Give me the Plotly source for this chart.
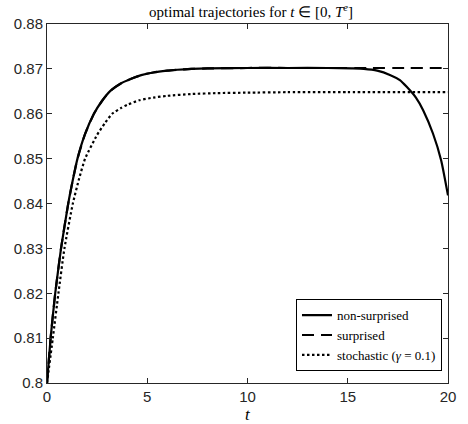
import plotly.graph_objects as go

# non-surprised trajectory
t_ns = [0, 0.18, 0.41, 0.70, 1.06, 1.3, 1.52, 1.9, 2.34, 2.75, 3.16, 3.7, 4.2, 4.7, 5.3, 6.0, 6.5,
        7.2, 8, 10, 12, 14, 15.2, 15.8, 16.47, 17.13, 17.6, 17.94, 18.4, 18.76, 19.25, 19.66, 20]
v_ns = [0.800, 0.810, 0.820, 0.830, 0.840, 0.8455, 0.850, 0.8555, 0.860, 0.8629, 0.8651, 0.8668,
        0.8678, 0.8686, 0.8692, 0.8696, 0.8698, 0.8700, 0.8701, 0.8702, 0.8702, 0.8702, 0.8701,
        0.8700, 0.8696, 0.8686, 0.8675, 0.8660, 0.8636, 0.8608, 0.8556, 0.8496, 0.8418]

# surprised trajectory
t_s = [0, 0.18, 0.41, 0.70, 1.06, 1.3, 1.52, 1.9, 2.34, 2.75, 3.16, 3.7, 4.2, 4.7, 5.3, 6.0, 6.5,
       7.2, 8, 10, 12, 14, 16, 18, 20]
v_s = [0.800, 0.810, 0.820, 0.830, 0.840, 0.8455, 0.850, 0.8555, 0.860, 0.8629, 0.8651, 0.8668,
       0.8678, 0.8686, 0.8692, 0.8696, 0.8698, 0.8700, 0.8701, 0.8702, 0.8702, 0.8702, 0.8702,
       0.8702, 0.8702]

# stochastic trajectory (gamma = 0.1)
t_st = [0, 0.29, 0.57, 0.87, 1.29, 1.6, 1.9, 2.5, 2.9, 3.25, 3.7, 4.0, 4.6, 5.3, 6.0, 7.2, 8.5,
        10, 12, 15, 20]
v_st = [0.800, 0.810, 0.820, 0.830, 0.840, 0.8455, 0.850, 0.8553, 0.8580, 0.8600, 0.8613, 0.8620,
        0.8630, 0.8636, 0.8640, 0.8644, 0.8646, 0.8647, 0.8648, 0.8648, 0.8648]

x_ticks = [0, 5, 10, 15, 20]
y_ticks = [0.80, 0.81, 0.82, 0.83, 0.84, 0.85, 0.86, 0.87, 0.88]
y_ticklabels = ["0.8", "0.81", "0.82", "0.83", "0.84", "0.85", "0.86", "0.87", "0.88"]

serif = "Liberation Serif, Times New Roman, serif"
sans = "Liberation Sans, Arial, sans-serif"

fig = go.Figure()
fig.add_trace(go.Scatter(x=t_s, y=v_s, mode="lines", name="surprised",
                         line=dict(color="black", width=2.2, dash="12px,7px", shape="spline", smoothing=0.5),
                         legendrank=2))
fig.add_trace(go.Scatter(x=t_ns, y=v_ns, mode="lines", name="non-surprised",
                         line=dict(color="black", width=2.2, shape="spline", smoothing=0.5),
                         legendrank=1))
fig.add_trace(go.Scatter(x=t_st, y=v_st, mode="lines", name="stochastic (<i>γ</i> = 0.1)",
                         line=dict(color="black", width=2.2, dash="2.5px,2.5px", shape="spline", smoothing=0.5),
                         legendrank=3))

axis_common = dict(
    showline=True, linecolor="#262626", linewidth=1, mirror="ticks",
    ticks="inside", ticklen=5, tickcolor="#262626", tickwidth=1,
    showgrid=False, zeroline=False, ticklabeloverflow="allow",
    tickfont=dict(family=sans, size=15, color="#262626"),
)

fig.update_layout(
    width=468, height=424,
    margin=dict(l=47, r=13, t=24, b=41),
    paper_bgcolor="white", plot_bgcolor="white",
    title=dict(text="optimal trajectories for <i>t</i> ∈ [0, <i>T</i><sup><i>e</i></sup>]",
               font=dict(family=serif, size=15, color="black"),
               x=251 / 468, xanchor="center", xref="container",
               y=1 - 12 / 424, yanchor="middle", yref="container"),
    xaxis=dict(range=[0, 20], tickvals=x_ticks, **axis_common),
    yaxis=dict(range=[0.80, 0.88], tickvals=y_ticks, ticktext=y_ticklabels, **axis_common),
    legend=dict(x=0.985, y=0.033, xanchor="right", yanchor="bottom",
                bgcolor="white", bordercolor="black", borderwidth=1,
                font=dict(family=serif, size=13, color="black"),
                itemwidth=30, tracegroupgap=0),
    showlegend=True,
    annotations=[dict(text="<i>t</i>", x=0.5, xref="paper", y=-(414 - 383) / 359, yref="paper",
                      xanchor="center", yanchor="middle", showarrow=False,
                      font=dict(family=serif, size=17, color="black"))],
)

fig.write_html(
    "out.html",
    config={"displayModeBar": False},
    post_script="document.body.style.margin='0';document.body.style.overflow='hidden';",
)
